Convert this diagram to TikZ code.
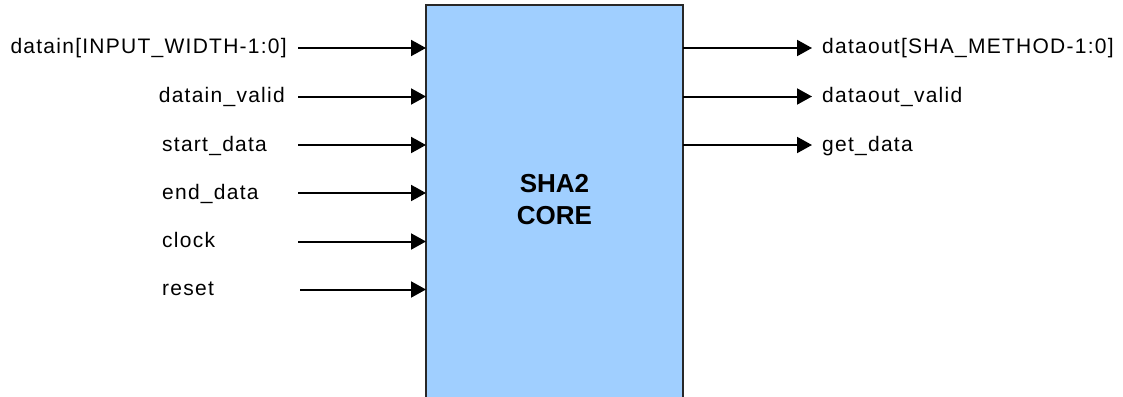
\documentclass[tikz,border=0pt]{standalone}
\usepackage{fontspec}
\setmainfont{Liberation Sans}
\newfontfamily\sigfont[LetterSpace=6]{Liberation Sans}
\usetikzlibrary{arrows.meta}
\definecolor{corefill}{RGB}{160,207,255}
\definecolor{coreline}{RGB}{40,40,40}
\begin{document}
\begin{tikzpicture}[x=1pt,y=-1pt,
  sig/.style={line width=2pt, -{Triangle[length=15pt,width=16pt]}},
  lbl/.style={font=\sigfont\fontsize{21}{24}\selectfont, inner sep=0pt},
  title/.style={font=\bfseries\fontsize{26}{30}\selectfont, inner sep=0pt, anchor=base},
]
\useasboundingbox (0,0) rectangle (1123,396);
\clip (0,0) rectangle (1123,396);

% the core block, running off the bottom edge
\node[draw=coreline, line width=2pt, fill=corefill, minimum width=257pt,
      minimum height=430pt, anchor=north west, inner sep=0pt, outer sep=0pt]
      (core) at (426,5) {};
\node[title] (t1) at (554.5,192) {SHA2};
\node[title] (t2) at (554.5,224) {CORE};

% input ports
\coordinate (i1) at (298,48);
\coordinate (i2) at (298,96.5);
\coordinate (i3) at (298,145);
\coordinate (i4) at (298,193);
\coordinate (i5) at (298,241.5);
\coordinate (i6) at (300,289.5);

\node[lbl, anchor=base east] (l1) at (287,54) {datain[INPUT\_WIDTH-1:0]};
\node[lbl, anchor=base east] (l2) at (285,102.5) {datain\_valid};
\node[lbl, anchor=base west] (l3) at (162,151) {start\_data};
\node[lbl, anchor=base west] (l4) at (162,199) {end\_data};
\node[lbl, anchor=base west] (l5) at (162,247.5) {clock};
\node[lbl, anchor=base west] (l6) at (162,295.5) {reset};

\foreach \p in {i1,i2,i3,i4,i5,i6}
  \draw[sig] (\p) -- (\p -| core.west);

% output ports
\coordinate (o1) at (812,48);
\coordinate (o2) at (812,96.5);
\coordinate (o3) at (812,145);

\foreach \p in {o1,o2,o3}
  \draw[sig] (\p -| core.east) -- (\p);

\node[lbl, anchor=base west] (r1) at (822,54) {dataout[SHA\_METHOD-1:0]};
\node[lbl, anchor=base west] (r2) at (822,102.5) {dataout\_valid};
\node[lbl, anchor=base west] (r3) at (822,151) {get\_data};
\end{tikzpicture}
\end{document}
